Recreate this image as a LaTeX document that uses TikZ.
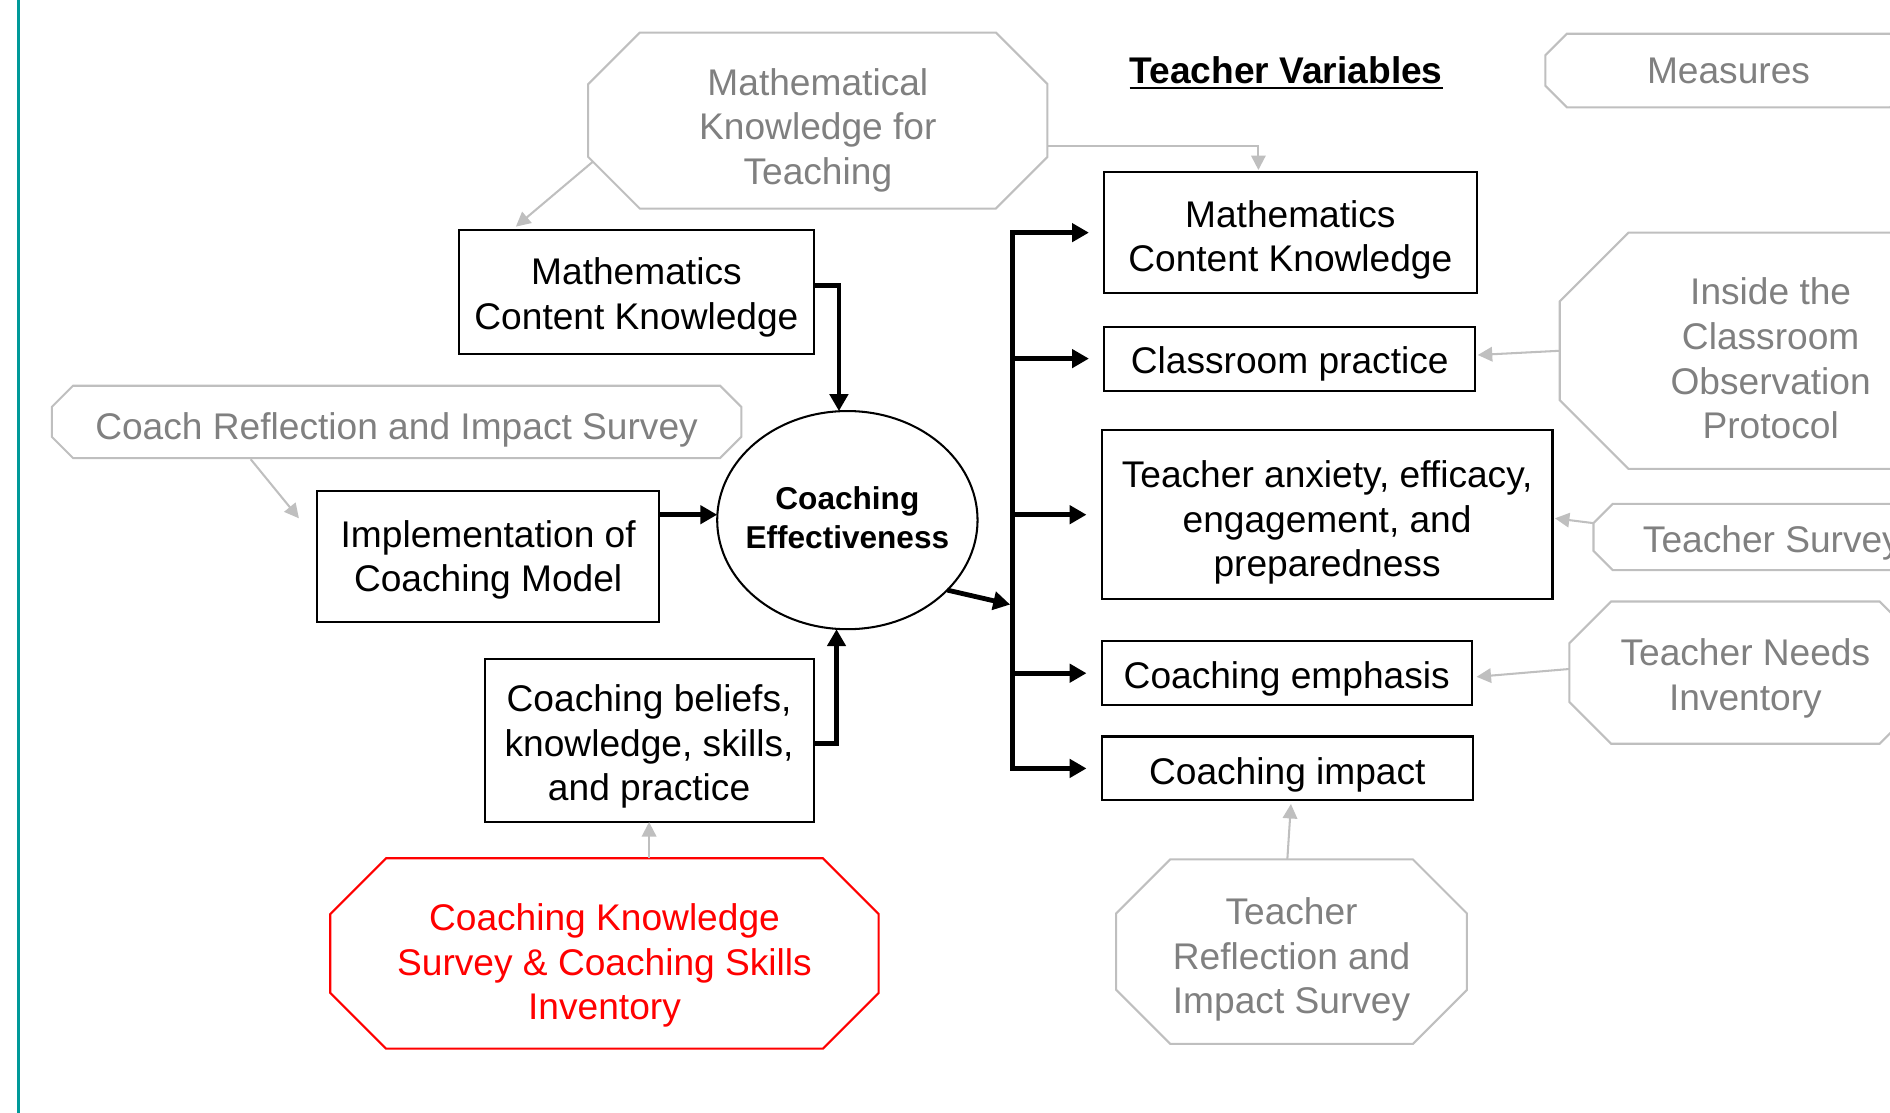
\documentclass[tikz,border=0pt]{standalone}
\usepackage{fontspec}
\setmainfont{Liberation Sans}
\usetikzlibrary{calc,arrows.meta,shapes.geometric}

\definecolor{edgeteal}{RGB}{0,153,153}
\definecolor{lightline}{RGB}{191,191,191}
\definecolor{graytext}{RGB}{128,128,128}
\definecolor{alertred}{RGB}{255,0,0}

% chamfered outline drawn round the corners of a node
\newcommand{\octo}[3]{%
  \draw[line width=0.85pt, line join=miter, #3]
    ($(#1.north west)+(#2,0)$) -- ($(#1.north east)+(-#2,0)$) --
    ($(#1.north east)+(0,#2)$) -- ($(#1.south east)+(0,-#2)$) --
    ($(#1.south east)+(-#2,0)$) -- ($(#1.south west)+(#2,0)$) --
    ($(#1.south west)+(0,-#2)$) -- ($(#1.north west)+(0,#2)$) -- cycle;}

\tikzset{
  every node/.style={font=\fontsize{15.4}{18.5}\selectfont, inner sep=0pt,
    outer sep=0pt, align=center},
  sized/.style 2 args={minimum width=#1*0.5pt, minimum height=#2*0.5pt},
  varbox/.style={draw, line width=0.85pt},
  measure/.style={text=graytext},
  bigarrow/.style={line width=2pt, -{Triangle[length=7pt,width=7.5pt]}},
  measarrow/.style={draw=lightline, line width=0.85pt,
    -{Triangle[length=6pt,width=6pt]}, lightline},
}

\begin{document}
\begin{tikzpicture}[x=0.5pt, y=-0.5pt]
\useasboundingbox (0,0) rectangle (1568,923);
\clip (0,0) rectangle (1568,923);

% left margin rule
\draw[edgeteal, line width=1.2pt] (15,0) -- (15,923);

% heading
\node[font=\bfseries\fontsize{15.4}{18.5}\selectfont] (tv) at (1067,58) {Teacher Variables};
\draw[line width=1pt] ($(tv.base west)+(0,4)$) -- ($(tv.base east)+(0,4)$);

% measures: frames (chamfered outlines) and their captions
\node[sized={381}{146}] (mkt) at (678.5,100) {};
\node[sized={304}{61}] (meas) at (1434,58.5) {};
\node[sized={572}{60}] (crs) at (329,350) {};
\node[sized={350}{196}] (icop) at (1469,291) {};
\node[sized={296}{55}] (tsurv) at (1470,445.5) {};
\node[sized={292}{118}] (tni) at (1448,558) {};
\node[sized={291}{153}] (trs) at (1071.5,789.5) {};
\node[sized={455}{158}] (red) at (501.5,791) {};

\octo{mkt}{42.8}{draw=lightline}
\octo{meas}{17.9}{draw=lightline}
\octo{crs}{17.6}{draw=lightline}
\octo{icop}{57}{draw=lightline}
\octo{tsurv}{16}{draw=lightline}
\octo{tni}{34.6}{draw=lightline}
\octo{trs}{44.8}{draw=lightline}
\octo{red}{46.3}{draw=alertred}

\node[measure] (mkt-t) at ([yshift=-4pt]mkt.center) {Mathematical\\Knowledge for\\Teaching};
\node[measure] (meas-t) at (meas.center) {Measures};
\node[measure] (crs-t) at ([yshift=-3.5pt]crs.center) {Coach Reflection and Impact Survey};
\node[measure] (icop-t) at ([yshift=-3.25pt]icop.center) {Inside the\\Classroom\\Observation\\Protocol};
\node[measure] (tsurv-t) at ([yshift=-2.5pt]tsurv.center) {Teacher Survey};
\node[measure] (tni-t) at ([yshift=-2.5pt]tni.center) {Teacher Needs\\Inventory};
\node[measure] (trs-t) at ([yshift=-3.25pt]trs.center) {Teacher\\Reflection and\\Impact Survey};
\node[text=alertred] (red-t) at ([yshift=-5pt]red.center) {Coaching Knowledge\\Survey \& Coaching Skills\\Inventory};

% coach variables
\node[varbox, sized={294}{103}] (lmck) at (528,242.5) {};
\node (lmck-t) at ([yshift=-2pt]lmck.center) {Mathematics\\Content Knowledge};
\node[varbox, sized={284}{109}] (impl) at (405,461.5) {};
\node (impl-t) at ([yshift=-1.5pt]impl.center) {Implementation of\\Coaching Model};
\node[varbox, sized={273}{135}] (belief) at (538.5,614.5) {};
\node (belief-t) at ([yshift=-2.5pt]belief.center) {Coaching beliefs,\\knowledge, skills,\\and practice};
\node[ellipse, draw, line width=0.85pt, sized={216}{181}] (ce) at (703,431.5) {};
\node[font=\bfseries\fontsize{13.1}{16.5}\selectfont] (ce-t) at ([yshift=1pt]ce.center) {Coaching\\Effectiveness};

% teacher variables
\node[varbox, sized={309}{100}] (rmck) at (1070.5,193) {};
\node (rmck-t) at ([yshift=-3pt]rmck.center) {Mathematics\\Content Knowledge};
\node[varbox, sized={308}{53}] (cp) at (1070,297.5) {};
\node (cp-t) at ([yshift=-2pt]cp.center) {Classroom practice};
\node[varbox, sized={374}{140}] (anx) at (1101,427) {};
\node (anx-t) at ([yshift=-3.25pt]anx.center) {Teacher anxiety, efficacy,\\engagement, and\\preparedness};
\node[varbox, sized={307}{53}] (emph) at (1067.5,558.5) {};
\node (emph-t) at ([yshift=-2.5pt]emph.center) {Coaching emphasis};
\node[varbox, sized={308}{53}] (imp) at (1068,637.5) {};
\node (imp-t) at ([yshift=-2.5pt]imp.center) {Coaching impact};

% inputs to coaching effectiveness
\draw[bigarrow] ($(lmck.east)+(0,-5.5)$) -| ($(ce.north)+(-7,0)$);
\draw[bigarrow] ($(impl.east)+(0,-34.5)$) -- ($(ce.west)+(0,-4.5)$);
\draw[bigarrow] ($(belief.east)+(0,2.5)$) -| ($(ce.south)+(-9,0)$);

% distribution bus to teacher variables
\coordinate (bx) at (840,502);
\draw[line width=2pt, line cap=rect] (rmck.west -| bx) -- (imp.west -| bx);
\foreach \n in {rmck,cp,anx,emph,imp}
  \draw[bigarrow, shorten >=6.3pt] (\n.west -| bx) -- (\n.west);
\draw[bigarrow, shorten >=1pt] (ce.-35.4) -- (bx);

% measures feeding variables
\draw[measarrow] ($(mkt.south west)+(4,-39)$) -- ($(lmck.north west)+(47,-3)$);
\draw[measarrow] ($(mkt.east)+(0,21)$) -| ($(rmck.north)+(-26.5,-2)$);
\draw[measarrow] ($(crs.south west)+(165,1)$) -- ($(impl.north west)+(-15,23)$);
\draw[measarrow] (red.north -| belief.south) -- (belief.south);
\draw[measarrow] (icop.west) -- ($(cp.east)+(2,-3)$);
\draw[measarrow] ($(tsurv.north west)+(0,16)$) -- ($(anx.east)+(2,3)$);
\draw[measarrow] ($(tni.west)+(0,-3)$) -- ($(emph.east)+(4,3)$);
\draw[measarrow] ($(trs.north)+(-3.5,0)$) -- ($(imp.south)+(3,3)$);
\end{tikzpicture}
\end{document}
